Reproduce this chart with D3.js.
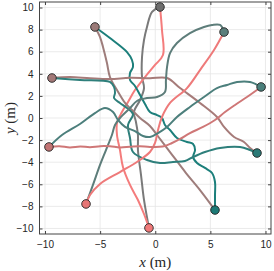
<!DOCTYPE html>
<html>
<head>
<meta charset="utf-8">
<script src="https://cdn.jsdelivr.net/npm/d3@7"></script>
<style>
body { margin:0; background:#fff; }
</style>
</head>
<body>
<svg class="chart"></svg>
<script>
// goal / start markers (x, y in m)
var markerX = [0.43, -5.47, -9.37, 6.24, 9.60, -9.64, -6.28, -0.57, 5.42, 9.23];
var markerY = [10.05, 8.24, 3.62, 7.78, 2.81, -2.62, -7.78, -9.95, -8.33, -3.17];
var markerColor = ["#6e6e6e","#9b7a78","#a27877","#5b7e7b","#4a7f7b","#c27474","#e67676","#f07878","#1d7a76","#2b7a77"];

// trajectories, one array pair per agent
var grayX = [0.43,-0.29,-0.75,-1.02,-1.20,-1.20,-1.02,-1.38,-1.93,-1.75,-1.57,-1.57,-1.29,-1.02,-0.57];
var grayY = [10.05,9.60,8.24,7.06,5.52,3.71,2.71,1.63,0.54,-0.36,-1.54,-2.90,-5.16,-7.42,-9.95];

var pinkX = [-0.57,-1.02,-1.57,-2.29,-2.93,-3.20,-3.47,-3.47,-3.02,-2.47,-1.84,-0.93,-0.02,0.70,0.61,0.43];
var pinkY = [-9.95,-8.69,-7.42,-6.06,-4.43,-2.90,-1.54,-0.45,0.54,1.45,2.53,3.71,4.80,5.70,7.96,10.05];

var mauveX = [-5.47,-5.01,-4.74,-4.38,-4.11,-3.47,-2.74,-2.11,-1.38,-0.48,0.16,1.34,2.79,4.06,5.42];
var mauveY = [8.24,7.33,6.43,4.98,3.71,2.53,1.36,0.72,0,-0.72,-1.54,-3.08,-4.98,-6.52,-8.33];

var tealX = [5.42,5.42,5.42,5.15,4.51,3.79,3.43,3.61,3.43,2.88,1.97,1.34,0.88,0.61,0.16,-0.48,-0.93,-1.38,-1.84,-2.29,-2.29,-2.02,-2.11,-2.56,-4.11,-5.47];
var tealY = [-8.33,-6.97,-5.79,-4.98,-4.52,-4.07,-3.53,-2.90,-2.35,-2.17,-1.81,-1.09,-0.63,0,0.27,0.54,1.27,2.08,2.90,3.44,4.07,4.62,5.25,5.97,7.24,8.24];

var mauve2X = [-9.37,-7.74,-5.92,-4.11,-2.29,-0.48,1.07,2.25,4.06,5.60,6.24,7.15,8.05,8.60,9.23];
var mauve2Y = [3.62,3.71,3.60,3.53,3.64,3.60,3.62,2.71,1.36,0.09,-0.81,-1.72,-2.17,-2.71,-3.17];

var teal2X = [9.23,8.60,7.69,5.88,4.51,3.43,2.70,1.61,0.43,-0.75,-2.02,-2.29,-2.47,-2.02,-2.56,-3.20,-3.74,-3.65,-3.74,-4.11,-6.83,-9.37];
var teal2Y = [-3.17,-2.90,-2.62,-2.71,-3.08,-3.53,-3.89,-3.98,-4.07,-3.80,-3.08,-1.81,-0.63,0.36,0.90,1.36,1.81,2.26,2.81,3.26,3.44,3.62];

var grayTealX = [6.24,5.88,5.15,4.42,3.15,1.97,1.34,1.07,0.97,0.88,0.16,-0.75,-1.66,-2.29,-3.20,-3.65,-3.93,-4.47,-5.01,-5.65,-6.28];
var grayTealY = [7.78,8.42,8.42,8.24,7.69,6.79,5.88,4.62,3.44,2.35,1.90,1.81,1.54,0.90,0,-0.63,-1.54,-2.90,-4.25,-6.06,-7.78];

var pink2X = [-6.28,-5.92,-5.01,-3.20,-1.66,-0.48,-0.02,0.25,0.61,1.34,2.88,4.06,5.33,6.24];
var pink2Y = [-7.78,-6.97,-5.97,-4.89,-3.98,-3.08,-2.26,-1.09,0.09,1.36,2.71,4.34,6.15,7.78];

var grayTeal2X = [9.60,8.60,7.42,6.51,5.60,4.42,3.15,1.97,1.07,0.25,-0.48,-1.11,-1.84,-2.74,-3.38,-3.83,-4.56,-5.47,-6.83,-8.46,-9.64];
var grayTeal2Y = [2.81,3.26,3.26,2.99,2.71,1.90,1.00,0.09,-0.81,-1.36,-1.72,-1.63,-1.18,-0.81,-0.18,0.54,0.90,0.45,-0.54,-1.54,-2.62];

var salmonX = [-9.64,-8.70,-7.74,-6.80,-5.92,-5.00,-4.11,-3.20,-2.29,-1.40,-0.48,0.88,1.52,2.25,3.15,4.33,5.42,6.33,7.24,8.32,9.60];
var salmonY = [-2.62,-2.56,-2.66,-2.58,-2.64,-2.55,-2.56,-2.66,-2.60,-2.55,-2.62,-2.53,-2.26,-1.90,-1.36,-0.81,-0.18,0.54,1.18,1.90,2.81];

var xTicks = [-10,-5,0,5,10];
var yTicks = [-10,-8,-6,-4,-2,0,2,4,6,8,10];

var paths = [
  {x:grayX, y:grayY, c:"#7a7a7a"},
  {x:pinkX, y:pinkY, c:"#f47c7c"},
  {x:mauveX, y:mauveY, c:"#9e7d7b"},
  {x:tealX, y:tealY, c:"#1c7f7b"},
  {x:mauve2X, y:mauve2Y, c:"#a67b79"},
  {x:teal2X, y:teal2Y, c:"#2e7f7b"},
  {x:grayTealX, y:grayTealY, c:"#5d7d7a"},
  {x:pink2X, y:pink2Y, c:"#ee7a7a"},
  {x:grayTeal2X, y:grayTeal2Y, c:"#4c7f7c"},
  {x:salmonX, y:salmonY, c:"#cf7777"}
];

var screen = {width:274, height:271};
var margins = {top:2, bottom:37, left:39.5, right:3};

var svg = d3.select(".chart")
            .attr("width", screen.width)
            .attr("height", screen.height);

var width = screen.width - margins.left - margins.right;
var height = screen.height - margins.top - margins.bottom;

var xScale = d3.scaleLinear().domain([-10.5,10.5]).range([0,width]);
var yScale = d3.scaleLinear().domain([-10.5,10.5]).range([height,0]);

var plot = svg.append("g")
              .attr("transform","translate("+margins.left+","+margins.top+")");

// grid
plot.append("g").selectAll("line").data(xTicks).enter().append("line")
    .attr("x1",function(d){return xScale(d)}).attr("x2",function(d){return xScale(d)})
    .attr("y1",0).attr("y2",height)
    .attr("stroke","#e6e6e6").attr("stroke-width",0.8);
plot.append("g").selectAll("line").data(yTicks).enter().append("line")
    .attr("y1",function(d){return yScale(d)}).attr("y2",function(d){return yScale(d)})
    .attr("x1",0).attr("x2",width)
    .attr("stroke","#e6e6e6").attr("stroke-width",0.8);

var drawLine = d3.line()
                 .x(function(d){return xScale(d[0])})
                 .y(function(d){return yScale(d[1])})
                 .curve(d3.curveCatmullRom.alpha(0.5));

plot.append("g").selectAll("path").data(paths).enter().append("path")
    .attr("d",function(p){return drawLine(p.x.map(function(v,i){return [v,p.y[i]]}))})
    .attr("fill","none")
    .attr("stroke",function(p){return p.c})
    .attr("stroke-width",2)
    .attr("stroke-linejoin","round")
    .attr("stroke-linecap","round");

plot.append("g").selectAll("circle").data(markerX).enter().append("circle")
    .attr("cx",function(d){return xScale(d)})
    .attr("cy",function(d,i){return yScale(markerY[i])})
    .attr("r",4.3)
    .attr("fill",function(d,i){return markerColor[i]})
    .attr("stroke","#222")
    .attr("stroke-width",0.9);

// axes with inward ticks on all sides
var tickStyle = function(g){
  g.select(".domain").remove();
  g.selectAll(".tick line").attr("stroke","#444");
  g.selectAll(".tick text").attr("fill","#262626")
   .style("font-family","'Liberation Sans', Arial, sans-serif").style("font-size","10px");
};

plot.append("g").attr("transform","translate(0,"+height+")")
    .call(d3.axisBottom(xScale).tickValues(xTicks).tickSizeInner(-3).tickPadding(7))
    .call(tickStyle);
plot.append("g")
    .call(d3.axisTop(xScale).tickValues(xTicks).tickSizeInner(-3).tickFormat(""))
    .call(tickStyle);
plot.append("g")
    .call(d3.axisLeft(yScale).tickValues(yTicks).tickSizeInner(-3).tickPadding(6))
    .call(tickStyle);
plot.append("g").attr("transform","translate("+width+",0)")
    .call(d3.axisRight(yScale).tickValues(yTicks).tickSizeInner(-3).tickFormat(""))
    .call(tickStyle);

plot.append("rect")
    .attr("width",width).attr("height",height)
    .attr("fill","none").attr("stroke","#444").attr("stroke-width",1);

// labels
var label = svg.append("text")
   .attr("x", margins.left + xScale(0))
   .attr("y", 267)
   .attr("text-anchor","middle")
   .style("font-family","'Liberation Serif', 'DejaVu Serif', serif")
   .style("font-size","15px")
   .attr("fill","#262626");
label.append("tspan").style("font-style","italic").text("x");
label.append("tspan").text(" (m)");

var ylabel = svg.append("text")
   .attr("transform","translate(15,"+(margins.top + yScale(0))+") rotate(-90)")
   .attr("text-anchor","middle")
   .style("font-family","'Liberation Serif', 'DejaVu Serif', serif")
   .style("font-size","15px")
   .attr("fill","#262626");
ylabel.append("tspan").style("font-style","italic").text("y");
ylabel.append("tspan").text(" (m)");
</script>
</body>
</html>
